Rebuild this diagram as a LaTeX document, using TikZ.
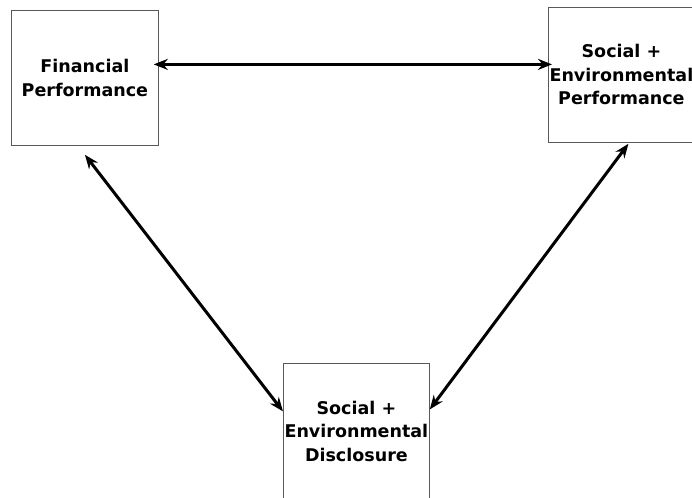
\documentclass[tikz,border=0pt]{standalone}
\usepackage{fontspec}
\newfontfamily\boxfont{DejaVu Sans}
\usetikzlibrary{arrows.meta}

\begin{document}
\begin{tikzpicture}[x=1pt,y=-1pt]
	\tikzset{%
		blk/.style={draw=black!65,line width=0.8pt,anchor=north west,align=center,inner sep=0pt,
			font=\boxfont\bfseries\fontsize{17.5}{23.5}\selectfont},
		link/.style={{Stealth[length=14pt,width=11pt]}-{Stealth[length=14pt,width=11pt]},line width=3pt},
	}

	\useasboundingbox (0,0) rectangle (692,497);

	\def\blkw{146}
	\def\blkh{135}

	\node[blk,minimum width=147pt,minimum height=\blkh pt] (fin) at (11,10) {Financial\\Performance};
	\node[blk,minimum width=\blkw pt,minimum height=\blkh pt] (sep) at (548,7) {Social +\\Environmental\\Performance};
	\node[blk,minimum width=\blkw pt,minimum height=136pt] (sed) at (283,363) {Social +\\Environmental\\Disclosure};

	\draw[link] ([xshift=-5pt,yshift=13.5pt]fin.east) -- ([xshift=4pt,yshift=10.5pt]sep.west);
	\draw[link] ([yshift=-9pt]fin.south) -- ([yshift=20pt]sed.west);
	\draw[link] ([xshift=7pt,yshift=-1pt]sep.south) -- ([yshift=22pt]sed.east);
\end{tikzpicture}
\end{document}
